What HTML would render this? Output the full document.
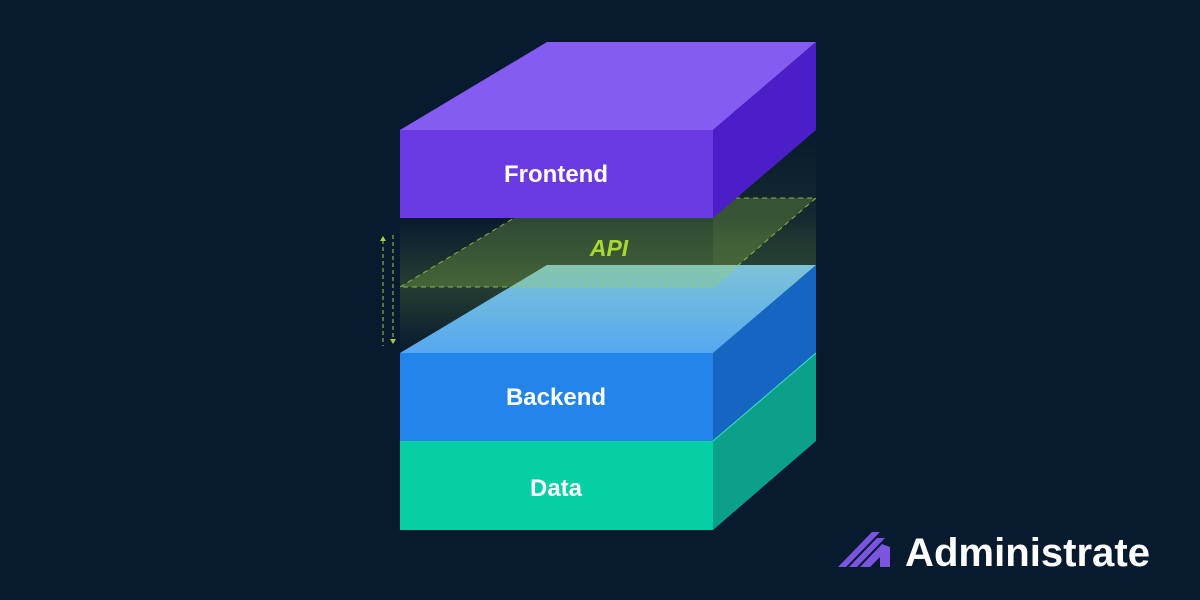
<!DOCTYPE html>
<html><head><style>
html,body{margin:0;padding:0;background:#071a2e;}
</style></head><body>
<svg width="1200" height="600" viewBox="0 0 1200 600" xmlns="http://www.w3.org/2000/svg" style="display:block">
<defs>
<linearGradient id="glow" x1="0" y1="0" x2="0" y2="1">
<stop offset="0" stop-color="#8fbf40" stop-opacity="0"/>
<stop offset="0.5" stop-color="#8fbf40" stop-opacity="0.22"/>
<stop offset="1" stop-color="#8fbf40" stop-opacity="0"/>
</linearGradient>
<linearGradient id="glow2" x1="0" y1="0" x2="0" y2="1">
<stop offset="0" stop-color="#8fbf40" stop-opacity="0"/>
<stop offset="0.5" stop-color="#8fbf40" stop-opacity="0.12"/>
<stop offset="1" stop-color="#8fbf40" stop-opacity="0"/>
</linearGradient>
<linearGradient id="btop" x1="0" y1="0" x2="0" y2="1">
<stop offset="0" stop-color="#7dc3d8"/>
<stop offset="1" stop-color="#56a8f0"/>
</linearGradient>
</defs>
<rect width="1200" height="600" fill="#071a2e"/>
<rect x="400" y="218" width="416" height="135" fill="url(#glow)"/>
<polygon points="713,130 816,130 816,265 713,353" fill="url(#glow2)"/>
<rect x="400" y="441" width="313" height="89" fill="#05cfa5"/>
<polygon points="713,441 816,353 816,441 713,530" fill="#0aa08a"/>
<rect x="400" y="353" width="313" height="88" fill="#2385e9"/>
<polygon points="713,353 816,265 816,353 713,441" fill="#1466c2"/>
<polygon points="400,353 547,265 816,265 713,353" fill="url(#btop)"/>
<line x1="713" y1="441" x2="816" y2="353" stroke="#40e0c0" stroke-width="1"/>
<polygon points="400,287 547,198 816,198 713,287" fill="#9fd04a" fill-opacity="0.26" stroke="#9fd04a" stroke-opacity="0.8" stroke-dasharray="5,4" stroke-width="1"/>
<text x="609" y="256" font-family="Liberation Sans, sans-serif" font-weight="bold" font-style="italic" font-size="23" fill="#a8d834" text-anchor="middle">API</text>
<polygon points="400,130 547,42 816,42 713,130" fill="#845cf2"/>
<rect x="400" y="130" width="313" height="88" fill="#6a3ae2"/>
<polygon points="713,130 816,42 816,130 713,218" fill="#4c1ec8"/>
<text x="556" y="182" font-family="Liberation Sans, sans-serif" font-weight="bold" font-size="24" fill="#fff" text-anchor="middle">Frontend</text>
<text x="556" y="405" font-family="Liberation Sans, sans-serif" font-weight="bold" font-size="24" fill="#fff" text-anchor="middle">Backend</text>
<text x="556" y="496" font-family="Liberation Sans, sans-serif" font-weight="bold" font-size="24" fill="#fff" text-anchor="middle">Data</text>
<line x1="383" y1="240" x2="383" y2="346" stroke="#9fd04a" stroke-dasharray="4,3"/>
<polygon points="380,241 386,241 383,236" fill="#9fd04a"/>
<line x1="393" y1="235" x2="393" y2="340" stroke="#9fd04a" stroke-dasharray="4,3"/>
<polygon points="390,339 396,339 393,344" fill="#9fd04a"/>
<g fill="#7b55e0">
<polygon points="838,567 872,532 880,532 846,567"/>
<polygon points="849,567 877,538 885,538 857,567"/>
<polygon points="860,567 882,544 890,547 890,567 880,567 880,557 870,567"/>
</g>
<text x="905" y="566" font-family="Liberation Sans, sans-serif" font-weight="bold" font-size="40" fill="#fff" textLength="245" lengthAdjust="spacingAndGlyphs">Administrate</text>
</svg>
</body></html>
